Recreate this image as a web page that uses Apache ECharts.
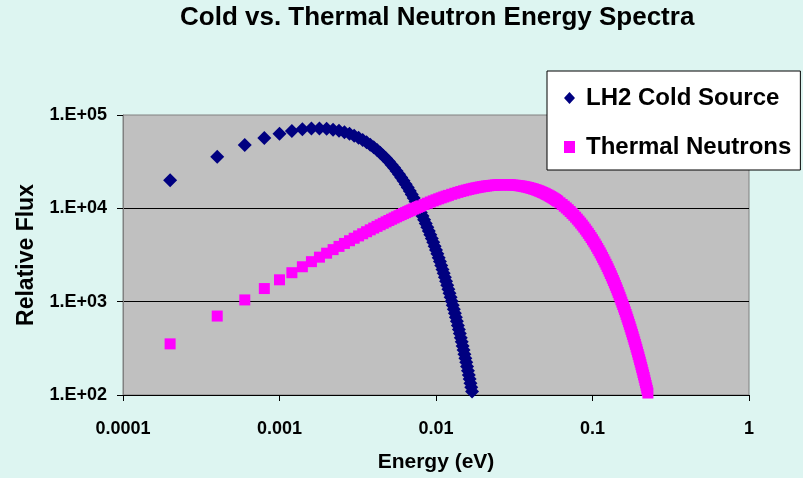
<!DOCTYPE html>
<html>
<head>
<meta charset="utf-8">
<script src="https://cdn.jsdelivr.net/npm/echarts@6/dist/echarts.min.js"></script>
<style>
  html, body { margin: 0; padding: 0; background: #DDF5F1; }
  #chart { width: 803px; height: 478px; }
</style>
</head>
<body>
<div id="chart"></div>
<script>
const chartTitle = 'Cold vs. Thermal Neutron Energy Spectra';
const seriesNames = ['LH2 Cold Source', 'Thermal Neutrons'];
const xTickLabels = ['0.0001', '0.001', '0.01', '0.1', '1'];
const yTickLabels = ['1.E+02', '1.E+03', '1.E+04', '1.E+05'];

const coldEnergy = [
  0.0002,0.0004,0.0006,0.0008,0.0010,0.0012,0.0014,0.0016,0.0018,0.0020,
  0.0022,0.0024,0.0026,0.0028,0.0030,0.0032,0.0034,0.0036,0.0038,0.0040,
  0.0042,0.0044,0.0046,0.0048,0.0050,0.0052,0.0054,0.0056,0.0058,0.0060,
  0.0062,0.0064,0.0066,0.0068,0.0070,0.0072,0.0074,0.0076,0.0078,0.0080,
  0.0082,0.0084,0.0086,0.0088,0.0090,0.0092,0.0094,0.0096,0.0098,0.0100,
  0.0102,0.0104,0.0106,0.0108,0.0110,0.0112,0.0114,0.0116,0.0118,0.0120,
  0.0122,0.0124,0.0126,0.0128,0.0130,0.0132,0.0134,0.0136,0.0138,0.0140,
  0.0142,0.0144,0.0146,0.0148,0.0150,0.0152,0.0154,0.0156,0.0158,0.0160,
  0.0162,0.0164,0.0166,0.0168,0.0170
];
const coldFlux = [
  20007,35656,47682,56671,63145,67547,70248,71567,71768,71089,
  69701,67785,65453,62843,60023,57068,54052,51017,48002,45039,
  42158,39372,36692,34131,31691,29381,27196,25141,23213,21405,
  19718,18143,16678,15317,14055,12888,11808,10810,9890,9042,
  8262,7544,6885,6280,5727,5218,4751,4326,3936,3581,
  3256,2959,2689,2442,2217,2012,1826,1656,1502,1361,
  1234,1118,1013,917,830,751,680,615,556,503,
  455,411,372,336,303,274,248,224,202,182,
  164,148,134,121,109
];

const thermalEnergy = [
  0.0002,0.0004,0.0006,0.0008,0.0010,0.0012,0.0014,0.0016,0.0018,0.0020,
  0.0022,0.0024,0.0026,0.0028,0.0030,0.0032,0.0034,0.0036,0.0038,0.0040,
  0.0042,0.0044,0.0046,0.0048,0.0050,0.0052,0.0054,0.0056,0.0058,0.0060,
  0.0062,0.0064,0.0066,0.0068,0.0070,0.0072,0.0074,0.0076,0.0078,0.0080,
  0.0084,0.0088,0.0092,0.0096,0.0100,0.0104,0.0108,0.0112,0.0116,0.0120,
  0.0126,0.0132,0.0138,0.0144,0.0150,0.0156,0.0162,0.0168,0.0174,0.0180,
  0.0186,0.0192,0.0198,0.0204,0.0210,0.0216,0.0222,0.0228,0.0234,0.0240,
  0.0246,0.0252,0.0258,0.0264,0.0270,0.0276,0.0282,0.0288,0.0294,0.0300,
  0.031,0.032,0.033,0.034,0.035,0.036,0.037,0.038,0.039,0.040,
  0.041,0.042,0.043,0.044,0.045,0.046,0.047,0.048,0.049,0.050,
  0.051,0.052,0.053,0.054,0.055,0.056,0.057,0.058,0.059,0.060,
  0.062,0.064,0.066,0.068,0.070,0.072,0.074,0.076,0.078,0.080,
  0.082,0.084,0.086,0.088,0.090,0.092,0.094,0.096,0.098,0.100,
  0.102,0.104,0.106,0.108,0.110,0.112,0.114,0.116,0.118,0.120,
  0.122,0.124,0.126,0.128,0.130,0.132,0.134,0.136,0.138,0.140,
  0.142,0.144,0.146,0.148,0.150,0.152,0.154,0.156,0.158,0.160,
  0.162,0.164,0.166,0.168,0.170,0.172,0.174,0.176,0.178,0.180,
  0.182,0.184,0.186,0.188,0.190,0.192,0.194,0.196,0.198,0.200,
  0.202,0.204,0.206,0.208,0.210,0.212,0.214,0.216,0.218,0.220,
  0.222,0.224,0.226
];
const thermalFlux = [
  353,701,1044,1382,1715,2043,2366,2684,2998,3307,
  3611,3910,4205,4496,4782,5064,5341,5614,5883,6147,
  6408,6664,6916,7164,7409,7649,7885,8118,8347,8571,
  8793,9010,9224,9435,9642,9845,10045,10241,10434,10624,
  10993,11349,11693,12024,12344,12651,12947,13232,13506,13769,
  14144,14497,14827,15136,15425,15695,15945,16177,16392,16590,
  16771,16937,17087,17224,17346,17455,17551,17635,17706,17767,
  17816,17855,17884,17904,17914,17915,17907,17892,17869,17838,
  17772,17687,17586,17468,17337,17193,17037,16869,16693,16507,
  16313,16111,15902,15688,15470,15246,15019,14788,14555,14320,
  14082,13843,13603,13363,13122,12882,12641,12402,12164,11926,
  11456,10992,10537,10092,9657,9233,8821,8421,8034,7660,
  7298,6950,6614,6291,5981,5683,5397,5124,4862,4612,
  4373,4144,3927,3719,3521,3333,3153,2982,2820,2666,
  2519,2380,2248,2123,2004,1892,1785,1684,1589,1498,
  1413,1332,1255,1182,1114,1049,988,931,876,825,
  776,730,687,647,608,572,538,506,475,447,
  420,395,371,349,327,308,289,271,255,239,
  225,211,198,186,174,164,154,144,135,127,
  119,112,105
];

const FONT = '"Liberation Sans", Arial, Helvetica, sans-serif';
const zip = (xs, ys) => xs.map((x, i) => [x, ys[i]]);

const chart = echarts.init(document.getElementById('chart'), null, { renderer: 'canvas' });
chart.setOption({
  animation: false,
  backgroundColor: '#DDF5F1',
  title: {
    text: chartTitle,
    left: 180,
    top: 5,
    padding: 0,
    textStyle: { fontFamily: FONT, fontWeight: 'bold', fontSize: 26, color: '#000' }
  },
  legend: {
    orient: 'vertical',
    left: 547,
    top: 71,
    padding: [14, 9, 10, 17],
    itemGap: 23,
    itemWidth: 11,
    itemHeight: 12,
    selectedMode: false,
    backgroundColor: '#FFFFFF',
    borderColor: '#000000',
    borderWidth: 1,
    borderRadius: 0,
    data: [
      { name: seriesNames[0], icon: 'diamond' },
      { name: seriesNames[1], icon: 'rect' }
    ],
    textStyle: { fontFamily: FONT, fontWeight: 'bold', fontSize: 24, lineHeight: 26, color: '#000', padding: [0, 0, 0, 6] }
  },
  grid: {
    left: 123, right: 54, top: 115, bottom: 75,
    show: true,
    backgroundColor: '#C0C0C0',
    borderColor: '#808080',
    borderWidth: 1
  },
  xAxis: {
    type: 'log',
    logBase: 10,
    min: 0.0001,
    max: 1,
    name: 'Energy (eV)',
    nameLocation: 'middle',
    nameGap: 57,
    nameTextStyle: { fontFamily: FONT, fontWeight: 'bold', fontSize: 21, color: '#000' },
    axisLine: { show: true, lineStyle: { color: '#000', width: 1 } },
    axisTick: { show: true, inside: false, length: 6, lineStyle: { color: '#000' } },
    minorTick: { show: false },
    splitLine: { show: false },
    axisLabel: {
      margin: 25,
      fontFamily: FONT, fontWeight: 'bold', fontSize: 18, color: '#000',
      formatter: v => xTickLabels[Math.round(Math.log10(v)) + 4]
    }
  },
  yAxis: {
    type: 'log',
    logBase: 10,
    min: 100,
    max: 100000,
    name: 'Relative Flux',
    nameLocation: 'middle',
    nameGap: 85,
    nameRotate: 90,
    nameTextStyle: { fontFamily: FONT, fontWeight: 'bold', fontSize: 23, color: '#000' },
    axisLine: { show: true, lineStyle: { color: '#808080', width: 1 } },
    axisTick: { show: true, inside: false, length: 6, lineStyle: { color: '#000' } },
    minorTick: { show: false },
    splitLine: { show: true, showMinLine: false, showMaxLine: false, lineStyle: { color: '#000', width: 1 } },
    axisLabel: {
      margin: 16,
      fontFamily: FONT, fontWeight: 'bold', fontSize: 18, color: '#000',
      formatter: v => yTickLabels[Math.round(Math.log10(v)) - 2]
    }
  },
  series: [
    {
      name: seriesNames[0],
      type: 'scatter',
      symbol: 'diamond',
      symbolSize: 14,
      itemStyle: { color: '#000080', opacity: 1 },
      data: zip(coldEnergy, coldFlux)
    },
    {
      name: seriesNames[1],
      type: 'scatter',
      symbol: 'rect',
      symbolSize: 11,
      itemStyle: { color: '#FF00FF', opacity: 1 },
      data: zip(thermalEnergy, thermalFlux)
    }
  ]
});
</script>
</body>
</html>
